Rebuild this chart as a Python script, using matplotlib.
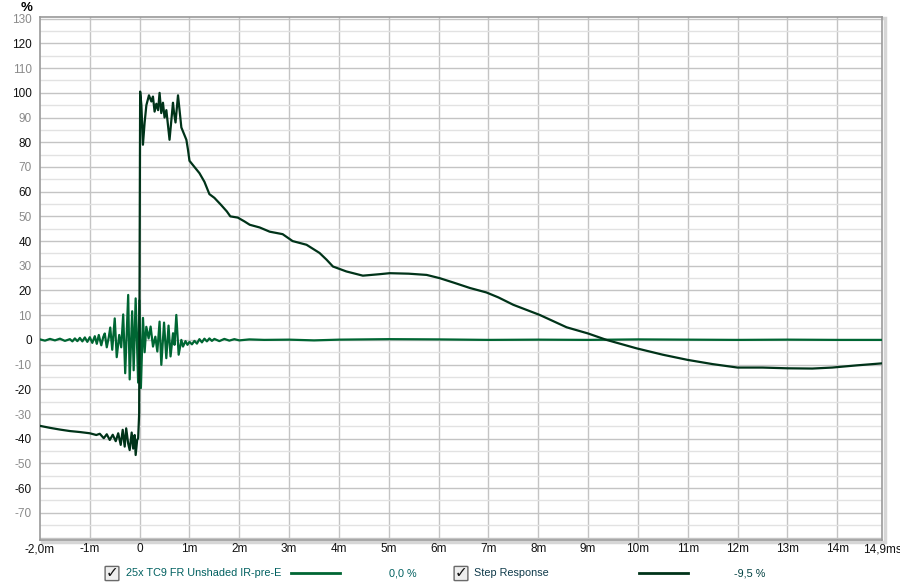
import matplotlib
matplotlib.use("Agg")
import matplotlib.pyplot as plt
from matplotlib.patches import Rectangle, FancyBboxPatch

plt.rcParams['font.family'] = ['Liberation Sans', 'DejaVu Sans']

# impulse response (IR-pre-E), % vs ms
ir_t = [-2.0, -1.9, -1.8, -1.7, -1.6, -1.5, -1.4, -1.35, -1.3, -1.25, -1.2, -1.15,
        -1.1, -1.05, -1.0, -0.95, -0.9, -0.86, -0.82, -0.77, -0.73, -0.7, -0.66,
        -0.62, -0.59, -0.55, -0.5, -0.46, -0.41, -0.37, -0.33, -0.29, -0.23, -0.2,
        -0.15, -0.12, -0.08, -0.03, -0.005, 0.025, 0.067, 0.1, 0.134, 0.18, 0.22,
        0.268, 0.315, 0.355, 0.4, 0.435, 0.49, 0.535, 0.58, 0.62, 0.67, 0.7, 0.736,
        0.783, 0.837, 0.87, 0.92, 0.96, 1.0, 1.05, 1.1, 1.15, 1.2, 1.25, 1.3, 1.35,
        1.4, 1.45, 1.5, 1.6, 1.7, 1.8, 1.9, 2.0, 2.2, 2.5, 3.0, 3.5, 4.0, 5.0, 6.0,
        7.0, 8.0, 9.0, 10.0, 11.0, 12.0, 13.0, 14.0, 14.9]
ir_v = [0.2, -0.3, 0.4, -0.2, 0.5, -0.4, 0.3, -0.6, 0.6, -0.5, 0.8, -0.6,
        1.0, -0.8, 1.1, -1.2, 1.5, -1.6, 2.0, -2.2, 1.2, 2.6, -3.0,
        1.0, 5.0, -4.0, 8.7, -7.0, 2.0, -3.0, 10.3, -13.5, 18.2, -16.0,
        11.6, -12.3, 16.8, -17.3, 16.0, -19.5, 8.9, -5.0, 5.3, 0.6, 5.4,
        -2.7, 1.3, -4.7, 7.4, -10.1, 7.0, -7.4, 5.8, -6.7, 2.7, -2.0, 10.1,
        -6.0, 0.0, -2.7, -0.5, -2.0, -0.8, -1.8, -0.4, -1.5, 0.3, -1.0, 0.5, -0.6,
        0.6, -0.4, 0.4, -0.5, 0.4, -0.3, 0.3, -0.2, 0.2, 0.0, 0.1, -0.2, 0.1, 0.3, 0.2,
        0.0, 0.1, 0.0, 0.2, 0.1, 0.0, 0.1, 0.0, 0.0]

# step response, % vs ms
step_t = [-2.0, -1.8, -1.6, -1.4, -1.2, -1.0, -0.87, -0.8, -0.72, -0.66, -0.6, -0.54,
          -0.48, -0.43, -0.38, -0.34, -0.3, -0.27, -0.23, -0.2, -0.16, -0.13, -0.1,
          -0.08, -0.05, -0.03, -0.01, 0.01, 0.035, 0.066, 0.1, 0.135, 0.187, 0.235,
          0.267, 0.3, 0.335, 0.37, 0.4, 0.434, 0.468, 0.5, 0.536, 0.6, 0.669, 0.69,
          0.72, 0.77, 0.837, 0.938, 0.97, 1.0, 1.1, 1.2, 1.3, 1.4, 1.5, 1.64, 1.75,
          1.82, 1.97, 2.1, 2.21, 2.41, 2.61, 2.87, 3.07, 3.35, 3.61, 3.75, 3.88, 4.15,
          4.48, 4.82, 5.02, 5.4, 5.76, 6.02, 6.3, 6.63, 6.96, 7.2, 7.5, 8.03, 8.57,
          9.0, 9.37, 9.97, 10.5, 11.0, 11.5, 12.0, 12.5, 13.0, 13.5, 13.9, 14.4, 14.9]
step_v = [-34.8, -35.6, -36.3, -36.9, -37.3, -37.8, -38.5, -38.0, -39.8, -38.2, -40.5, -38.4,
          -41.0, -37.8, -42.5, -36.4, -43.2, -35.8, -42.0, -44.6, -37.5, -44.0, -38.5,
          -46.6, -40.5, -39.8, -30.0, 100.5, 95.0, 79.0, 88.0, 95.0, 99.0, 96.5,
          98.5, 92.4, 95.6, 93.0, 100.0, 91.8, 96.0, 90.0, 93.0, 81.0, 96.0, 92.0,
          88.0, 99.0, 86.0, 81.0, 77.0, 72.5, 70.0, 67.5, 64.0, 59.0, 57.5, 54.5, 52.0,
          50.0, 49.5, 48.0, 46.6, 45.5, 43.8, 42.8, 40.0, 38.5, 35.2, 32.5, 29.7, 27.7,
          26.0, 26.6, 27.0, 26.8, 26.3, 25.0, 23.2, 21.0, 19.2, 17.2, 14.2, 10.1, 5.1,
          2.6, 0.0, -3.4, -6.0, -8.1, -9.8, -11.2, -11.2, -11.5, -11.6, -11.2, -10.3, -9.5]

x_ticks = list(range(-2, 15)) + [14.9]
x_labels = ["-2,0m", "-1m", "0"] + ["%dm" % i for i in range(1, 15)] + ["14,9ms"]
y_ticks = list(range(-70, 131, 10))

ir_color = "#006633"
step_color = "#003319"

fig = plt.figure(figsize=(9, 5.87), dpi=100)
ax = fig.add_axes([40 / 900, 1 - 540 / 587, 842 / 900, 523 / 587])

ax.set_xlim(-2.0, 14.9)
ax.set_ylim(-81, 130.7)

# grid
for x in range(-1, 15):
    ax.axvline(x, color="#c4c4c4", lw=1, zorder=0)
for y in range(-80, 131, 5):
    if y % 10 == 0:
        ax.axhline(y, color="#c4c4c4", lw=1, zorder=0)
    else:
        ax.axhline(y, color="#e2e2e2", lw=1, zorder=0)

ax.plot(ir_t, ir_v, color=ir_color, lw=1.6, zorder=3)
ax.plot(step_t, step_v, color=step_color, lw=1.6, zorder=4)

ax.set_xticks(x_ticks)
ax.set_xticklabels(x_labels, va="baseline")
ax.set_yticks(y_ticks)
ax.set_yticklabels([str(v) for v in y_ticks])
ax.tick_params(axis="y", length=0, labelsize=8.5, pad=6)
ax.tick_params(axis="x", length=0, labelsize=8.5, pad=9)
for lab, v in zip(ax.get_yticklabels(), y_ticks):
    lab.set_color("#111111" if v % 20 == 0 else "#8a8a8a")
for lab in ax.get_xticklabels():
    lab.set_color("#111111")

for s in ax.spines.values():
    s.set_color("#9a9a9a")
    s.set_linewidth(1.2)

# frame shadow
fig.patches.append(Rectangle((41.5 / 900, 1 - 542 / 587), 843 / 900, 524 / 587,
                             transform=fig.transFigure, fill=False,
                             edgecolor="#d6d6d6", lw=2.5, zorder=-1))

fig.text(27 / 900, 1 - 8 / 587, "%", fontsize=9.5, fontweight="bold",
         ha="center", va="center")

# legend row
def checkbox(px):
    fig.patches.append(FancyBboxPatch((px / 900, 1 - 580 / 587), 12 / 900, 13 / 587,
                                      boxstyle="round,pad=0.001", transform=fig.transFigure,
                                      facecolor="#eeeeee", edgecolor="#6a6a6a", lw=1))
    fig.text((px + 6.5) / 900, 1 - 573 / 587, "\u2713", fontsize=11, fontweight="bold",
             ha="center", va="center", color="#111111", family="DejaVu Sans")

checkbox(106)
fig.text(126 / 900, 1 - 573 / 587, "25x TC9 FR Unshaded IR-pre-E", fontsize=7.8,
         color="#006060", va="center")
fig.add_artist(plt.Line2D([291 / 900, 340 / 900], [1 - 573 / 587] * 2,
                          transform=fig.transFigure, color=ir_color, lw=2))
fig.text(417 / 900, 1 - 573 / 587, "0,0 %", fontsize=7.8, color="#006060",
         va="center", ha="right")

checkbox(455)
fig.text(474 / 900, 1 - 573 / 587, "Step Response", fontsize=7.8,
         color="#0f3a4a", va="center")
fig.add_artist(plt.Line2D([639 / 900, 688 / 900], [1 - 573 / 587] * 2,
                          transform=fig.transFigure, color=step_color, lw=2))
fig.text(765 / 900, 1 - 573 / 587, "-9,5 %", fontsize=7.8, color="#004040",
         va="center", ha="right")

fig.savefig("out.png", dpi=100)
